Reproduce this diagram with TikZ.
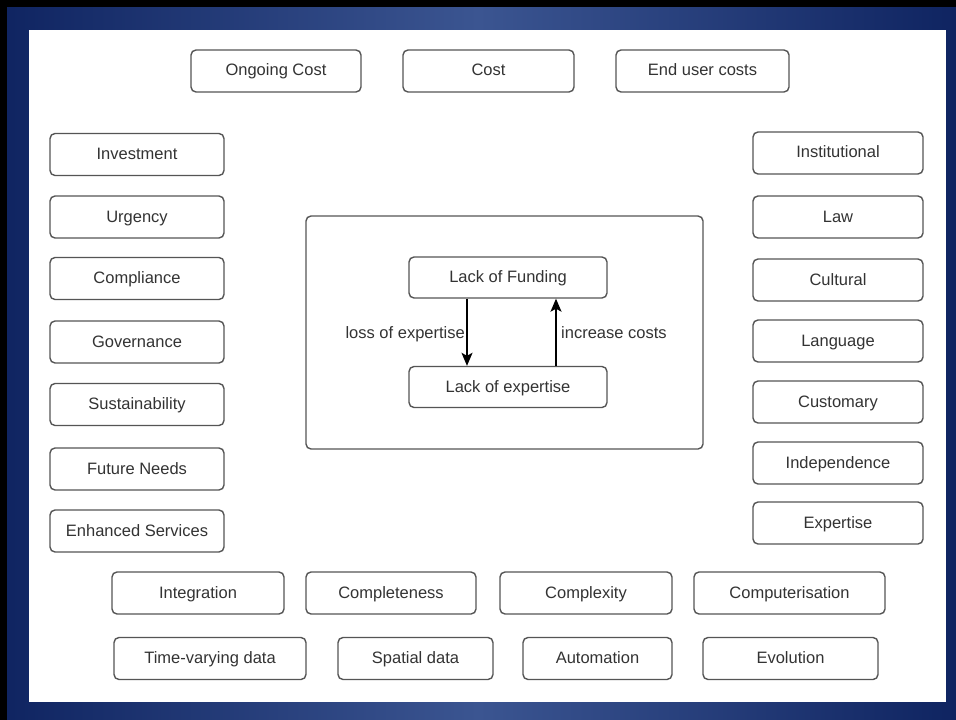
\documentclass[tikz,border=0pt]{standalone}
\usepackage{fontspec}
\setmainfont{Liberation Sans}
\usetikzlibrary{arrows.meta}
\definecolor{navyD}{HTML}{0F2461}
\definecolor{navyL}{HTML}{3B5591}
\definecolor{boxline}{HTML}{555555}
\definecolor{txt}{HTML}{333333}
\tikzset{
  box/.style={draw=boxline, line width=1.4bp, rounded corners=5bp, fill=white,
    minimum height=42bp, inner sep=0pt, text=txt, text height=11bp, text depth=1bp,
    font=\fontsize{16.5bp}{19bp}\selectfont},
  lbl/.style={text=txt, inner sep=0pt, text height=11bp, text depth=1bp,
    font=\fontsize{16.5bp}{19bp}\selectfont},
  arr/.style={draw=black, line width=1.4bp, -{Stealth[length=13bp,width=11bp,inset=3bp]}}
}
\begin{document}
\begin{tikzpicture}[x=1bp,y=-1bp]
\useasboundingbox (0,0) rectangle (956,720);
% frame
\shade[left color=navyD, right color=navyD, middle color=navyL] (0,0) rectangle (956,720);
\fill[black] (0,0) rectangle (956,7);
\fill[black] (0,0) rectangle (7,720);
\fill[white] (29,30) rectangle (946,702);

% top row
\node[box, minimum width=170bp] (oc) at (276,71) {Ongoing Cost};
\node[box, minimum width=171bp] (cost) at (488.5,71) {Cost};
\node[box, minimum width=173bp] (euc) at (702.5,71) {End user costs};

% left column
\node[box, minimum width=174bp] (inv) at (137,154.5) {Investment};
\node[box, minimum width=174bp] (urg) at (137,217) {Urgency};
\node[box, minimum width=174bp] (comp) at (137,278.5) {Compliance};
\node[box, minimum width=174bp] (gov) at (137,342) {Governance};
\node[box, minimum width=174bp] (sus) at (137,404.5) {Sustainability};
\node[box, minimum width=174bp] (fut) at (137,469) {Future Needs};
\node[box, minimum width=174bp] (enh) at (137,531) {Enhanced Services};

% right column
\node[box, minimum width=170bp] (ins) at (838,153) {Institutional};
\node[box, minimum width=170bp] (law) at (838,217) {Law};
\node[box, minimum width=170bp] (cul) at (838,280) {Cultural};
\node[box, minimum width=170bp] (lang) at (838,341) {Language};
\node[box, minimum width=170bp] (cust) at (838,402) {Customary};
\node[box, minimum width=170bp] (ind) at (838,463) {Independence};
\node[box, minimum width=170bp] (exp) at (838,523) {Expertise};

% center
\node[box, minimum width=397bp, minimum height=233bp] (center) at (504.5,332.5) {};
\node[box, minimum width=198bp, minimum height=41bp] (lf) at (508,277.5) {Lack of Funding};
\node[box, minimum width=198bp, minimum height=41bp] (le) at (508,387) {Lack of expertise};
\draw[arr] ([xshift=-41bp]lf.south) -- ([xshift=-41bp]le.north);
\draw[arr] ([xshift=48bp]le.north) -- ([xshift=48bp]lf.south);
\node[lbl, anchor=east] (l1) at (465,333) {loss of expertise};
\node[lbl, anchor=west] (l2) at (561,333) {increase costs};

% bottom row 1
\node[box, minimum width=172bp] (integ) at (198,593) {Integration};
\node[box, minimum width=170bp] (compl) at (391,593) {Completeness};
\node[box, minimum width=172bp] (cplx) at (586,593) {Complexity};
\node[box, minimum width=191bp] (comput) at (789.5,593) {Computerisation};

% bottom row 2
\node[box, minimum width=192bp] (tvd) at (210,658.5) {Time-varying data};
\node[box, minimum width=155bp] (spd) at (415.5,658.5) {Spatial data};
\node[box, minimum width=149bp] (aut) at (597.5,658.5) {Automation};
\node[box, minimum width=175bp] (evo) at (790.5,658.5) {Evolution};
\end{tikzpicture}
\end{document}
